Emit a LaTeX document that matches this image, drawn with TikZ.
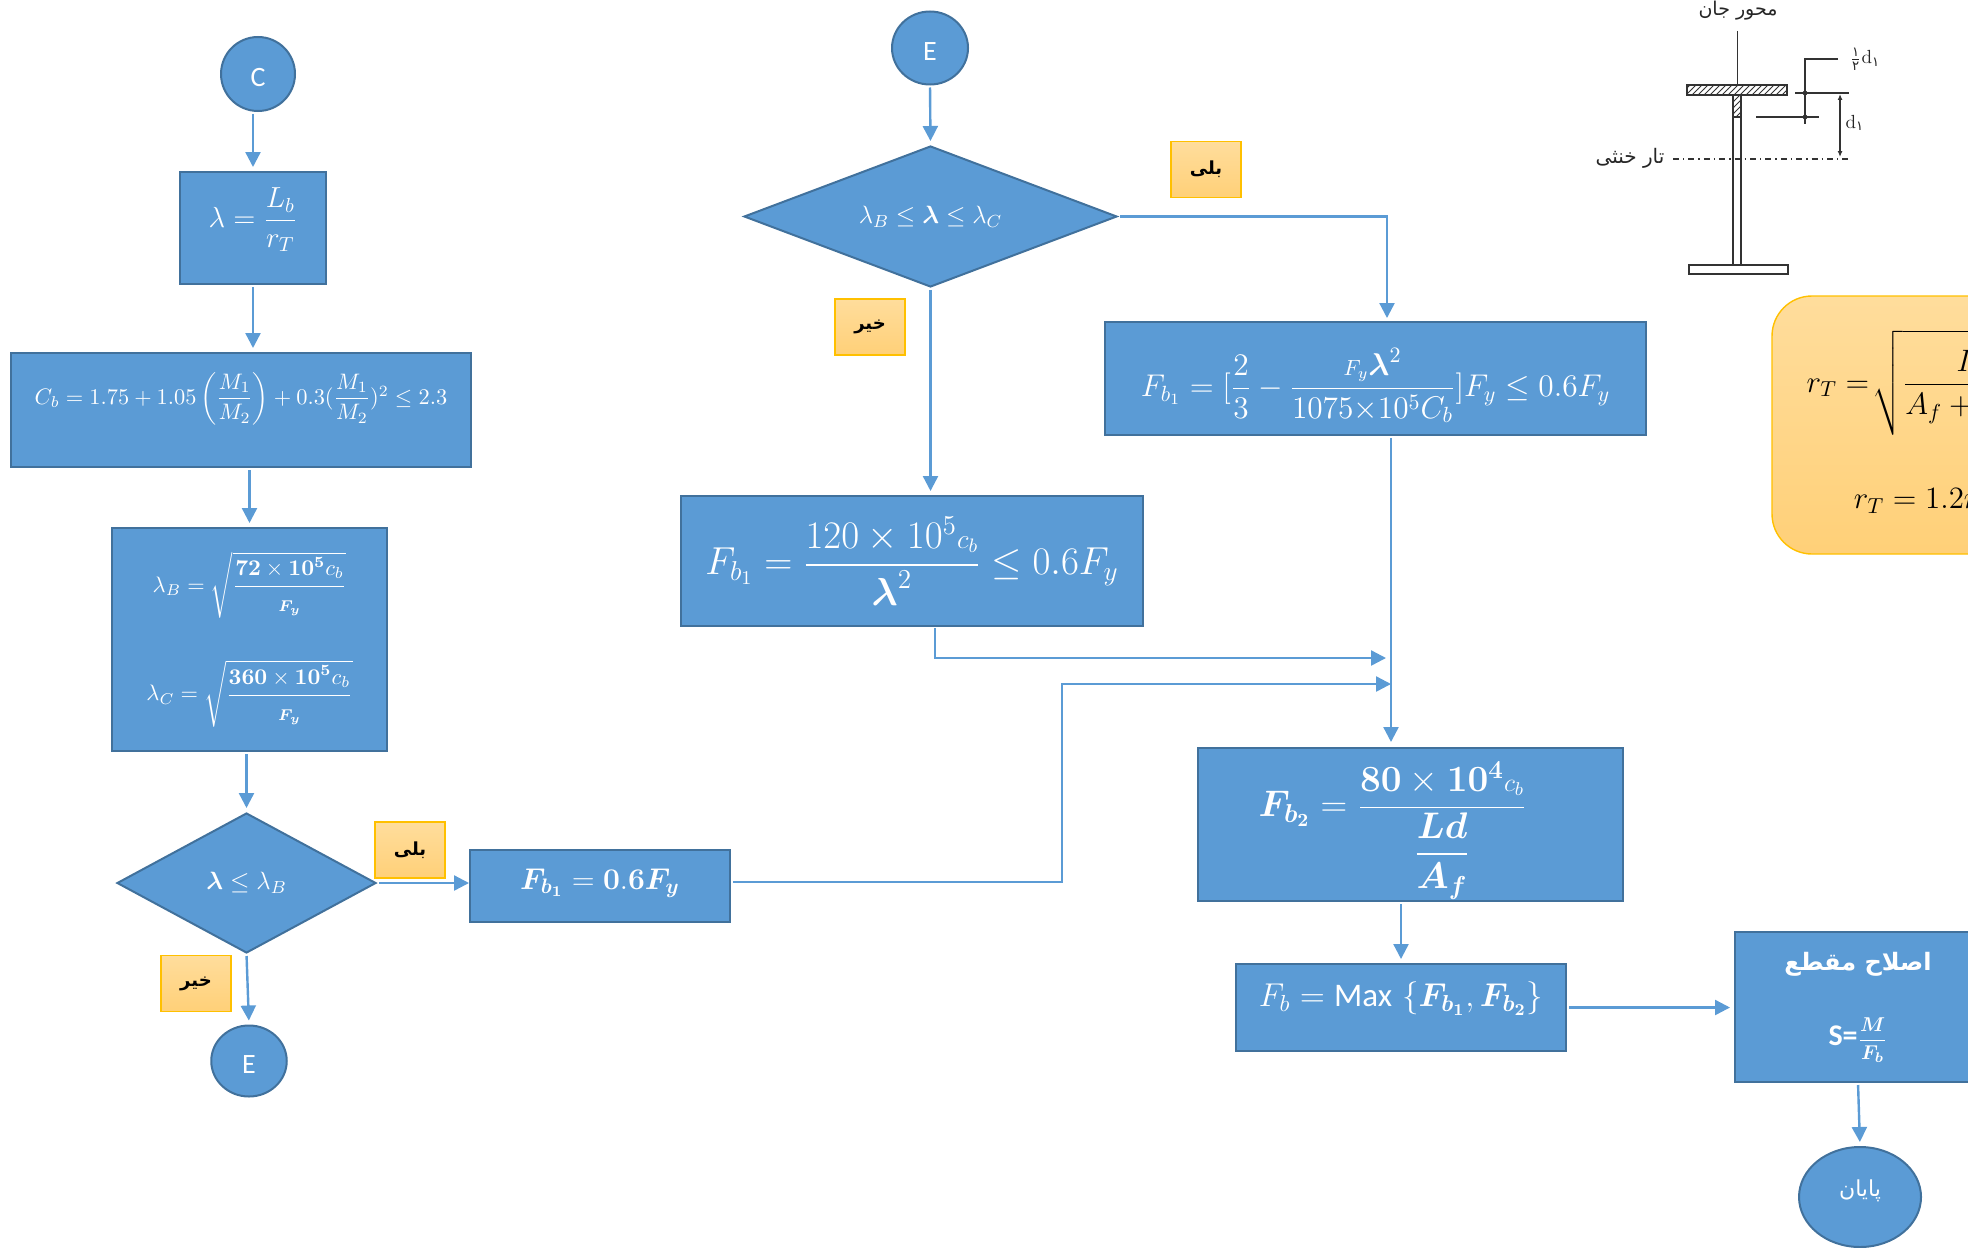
\documentclass[tikz,border=0pt]{standalone}
\usepackage{fix-cm}
\usepackage{exscale}
\usepackage{amsmath}
\usepackage[no-math]{fontspec}
\usetikzlibrary{shapes.geometric,arrows.meta,patterns}
\newfontfamily\calibrifont{Carlito}
\newfontfamily\arabicfont[Script=Arabic]{DejaVu Sans}
\TeXXeTstate=1
\newcommand{\fsize}[1]{\fontsize{#1}{#1}\selectfont}
\newcommand{\lift}[2]{\raisebox{#1}[\height][\depth]{#2}}
\newcommand{\bl}{\boldsymbol{\lambda}}
\newcommand{\smallcb}{{\scriptstyle c_b}}
\newcommand{\limitfrac}[1]{\dfrac{#1\rule[-4pt]{0pt}{0pt}}{\rule{0pt}{11pt}\scriptstyle\boldsymbol{F_y}}}
\definecolor{boxblue}{HTML}{5B9BD5}
\definecolor{boxedge}{HTML}{41719C}
\definecolor{labeledge}{HTML}{FFC000}
\definecolor{labeltop}{HTML}{FFDD9C}
\definecolor{labelbottom}{HTML}{FFD078}
\tikzset{
    box/.style={draw=boxedge,line width=1pt,fill=boxblue,text=white,inner sep=0pt,align=center},
    round/.style={box,ellipse},
    choice/.style={box,diamond,shape aspect=2.6},
    answer/.style={draw=labeledge,line width=.7pt,top color=labeltop,bottom color=labelbottom,minimum width=35pt,minimum height=28pt,inner sep=0pt,font=\arabicfont\bfseries\fsize{9}},
    flow/.style={draw=boxblue,line width=1.2pt,-{Triangle[length=7.5pt,width=7.5pt]},shorten >=2pt,shorten <=1pt},
    sketch/.style={draw=black!80,line width=.7pt},
    sketchlabel/.style={inner sep=0pt,text=black!85}
}
\begin{document}
\begin{tikzpicture}[x=0.5pt,y=-0.5pt]
    \useasboundingbox (0,0) rectangle (1968,1247);
    \clip (0,0) rectangle (1968,1247);

    % left column
    \node[round,minimum width=37pt,minimum height=37pt,font=\calibrifont\fsize{14}] (c) at (258,74) {\lift{-2pt}{C}};
    \node[box,minimum width=73pt,minimum height=56pt,font=\fsize{14.5}] (slender) at (253,228) {\lift{4pt}{\(\lambda = \dfrac{L_b}{r_T}\)}};
    \node[box,minimum width=230pt,minimum height=57pt,font=\fsize{11.2}] (cb) at (241,410) {\lift{5.6pt}{\(C_b = 1.75 + 1.05\left(\dfrac{M_1}{M_2}\right) + 0.3(\dfrac{M_1}{M_2})^2 \leq 2.3\)}};
    \node[box,minimum width=137.5pt,minimum height=111.5pt,font=\fsize{11.2}] (limits) at (249.5,639.5) {\(\lambda_B = \sqrt{\limitfrac{\mathbf{72} \times \mathbf{10^5} c_b}}\)\\[20pt]\(\lambda_C = \sqrt{\limitfrac{\mathbf{360} \times \mathbf{10^5} c_b}}\)};
    \node[choice,minimum width=129.5pt,minimum height=70pt,font=\fsize{12.5}] (lowcheck) at (246.5,883) {\(\bl \leq \lambda_B\)};
    \node[answer] (lowyes) at (410,850) {\beginR بلی\endR};
    \node[answer] (lowno) at (196,983.5) {\beginR خیر\endR};
    \node[box,minimum width=130pt,minimum height=36pt,font=\fsize{15}] (fbshort) at (600,886) {\lift{1.5pt}{\(\boldsymbol{F_{b_1}} = \mathbf{0.6}\boldsymbol{F_y}\)}};
    \node[round,minimum width=37.75pt,minimum height=35.5pt,font=\calibrifont\fsize{14}] (eleft) at (249,1061) {\lift{-2pt}{E}};

    % middle column
    \node[round,minimum width=38pt,minimum height=36.5pt,font=\calibrifont\fsize{14}] (etop) at (930,48) {\lift{-2pt}{E}};
    \node[choice,minimum width=186.5pt,minimum height=70.5pt,font=\fsize{12.5}] (midcheck) at (930.5,216.5) {\(\lambda_B \leq \bl \leq \lambda_C\)};
    \node[answer] (midyes) at (1206,169.5) {\beginR بلی\endR};
    \node[answer] (midno) at (870,327) {\beginR خیر\endR};
    \node[box,minimum width=230.75pt,minimum height=65pt,font=\fsize{19.5}] (fbmid) at (912,561) {\(F_{b_1} = \dfrac{120 \times 10^5 \smallcb}{\bl^2} \leq 0.6F_y\)};
    \node[box,minimum width=270.5pt,minimum height=56.5pt,font=\fsize{15.7}] (fbhigh) at (1375.5,378.5) {\lift{-3.5pt}{\(F_{b_1} =[\dfrac{2}{3} - \dfrac{{\scriptstyle F_y}\bl^2}{1075{\times}10^5 C_b}]F_y \leq 0.6F_y\)}};

    % right column
    \node[box,minimum width=212.5pt,minimum height=76.5pt,font=\fsize{18.5}] (fbtwo) at (1410.5,824.5) {\lift{-3pt}{\(\boldsymbol{F_{b_2}} = \dfrac{\mathbf{80} \times \mathbf{10^4} \smallcb}{\dfrac{\boldsymbol{Ld}}{\boldsymbol{A_f}}}\hspace{18pt}\)}};
    \node[box,minimum width=165pt,minimum height=43.5pt,font=\fsize{16.5}] (fbmax) at (1401,1007.5) {\lift{4.4pt}{\(F_b = \text{\calibrifont Max}\ \{\boldsymbol{F_{b_1}},\boldsymbol{F_{b_2}}\}\)}};
    \node[box,minimum width=123pt,minimum height=75pt] (section) at (1858,1007) {{\arabicfont\bfseries\fsize{12}\beginR اصلاح مقطع\endR}\\[20pt]{\calibrifont\bfseries\fsize{15}S=}\(\dfrac{\boldsymbol{M}}{\boldsymbol{F_b}}\)};
    \node[round,minimum width=61pt,minimum height=50pt,font=\arabicfont\fsize{11}] (finish) at (1860,1197) {\lift{3pt}{\beginR پایان\endR}};
    \node[draw=labeledge,line width=.7pt,top color=labeltop,bottom color=labelbottom,rounded corners=20pt,minimum width=150pt,minimum height=129pt,inner sep=0pt,font=\fsize{15.5}] (radius) at (1922,425) {\lift{0.5pt}{\(\begin{gathered}r_T = \!\sqrt{\dfrac{\rule{0pt}{17pt}I_f}{A_f + \tfrac{1}{6}A_w\rule[-10pt]{0pt}{0pt}}}\\[22pt]r_T = 1.2r_y\end{gathered}\)}};

    % connectors
    \coordinate (midbend) at (1387,322);
    \coordinate (midout) at (935,626);
    \coordinate (midjoin) at (1390,658);
    \coordinate (shortbend) at (1062,684);
    \coordinate (shortjoin) at (1395,684);
    \coordinate (fbin) at (1391,746);

    \draw[flow] (slender.north |- c.south) to (slender.north);
    \draw[flow] (slender.south) to (slender.south |- cb.north);
    \draw[flow] (limits.north |- cb.south) to (limits.north);
    \draw[flow] (lowcheck.north |- limits.south) to (lowcheck.north);
    \draw[flow,shorten >=0pt] (lowcheck.east) to (lowcheck.east -| fbshort.west);
    \draw[flow] (lowcheck.south) to (eleft.north);
    \draw[flow] (etop.south) to (midcheck.north);
    \draw[flow] (midcheck.south) to (midcheck.south |- fbmid.north);
    \draw[flow] (midcheck.east) -| (midbend);
    \draw[flow] (midout) |- (midjoin);
    \draw[flow] ([yshift=2pt]fbshort.east) -| (shortbend) -- (shortjoin);
    \draw[flow] (fbin |- fbhigh.south) to (fbin);
    \draw[flow] (fbtwo.south -| fbmax.north) to (fbmax.north);
    \draw[flow] (fbmax.east) to (fbmax.east -| section.west);
    \draw[flow] (section.south) to (finish.north);

    % section sketch
    \node[sketchlabel,font=\arabicfont\fsize{9.5}] (webaxis) at (1738,11) {\beginR محور جان\endR};
    \node[sketchlabel,font=\arabicfont\fsize{10}] (neutral) at (1630,158) {\beginR تار خنثی\endR};
    \node[sketchlabel,font=\fsize{9.5}] (halfd) at (1865,59) {\(\frac{\text{\arabicfont ۱}}{\text{\arabicfont ۲}}\)d\(_{\text{\arabicfont ۱}}\)};
    \node[sketchlabel,font=\fsize{9.5}] (depth) at (1855,123) {d\(_{\text{\arabicfont ۱}}\)};
    \draw[sketch] (1737.5,31) -- (1737.5,85);
    \draw[sketch,pattern=north east lines,pattern color=black!80] (1687,85) rectangle (1787,95);
    \draw[sketch,pattern=north east lines,pattern color=black!80] (1733,95) rectangle (1741,117);
    \draw[sketch] (1733,117) -- (1733,265) (1741,117) -- (1741,265);
    \draw[sketch] (1689,265) rectangle (1788,274);
    \draw[sketch,dash dot] (1673,159) -- (1850,159);
    \draw[sketch] (1795,93) -- (1849,93);
    \draw[sketch] (1756,117) -- (1819,117);
    \draw[sketch] (1838,59) -- (1805,59) -- (1805,124);
    \draw[sketch,{Latex[length=3pt,width=2.5pt]}-{Latex[length=3pt,width=2.5pt]}] (1840,94) -- (1840,157);
    \fill[black!80] (1805,93) circle (1.2pt) (1805,117) circle (1.2pt);
\end{tikzpicture}
\end{document}
